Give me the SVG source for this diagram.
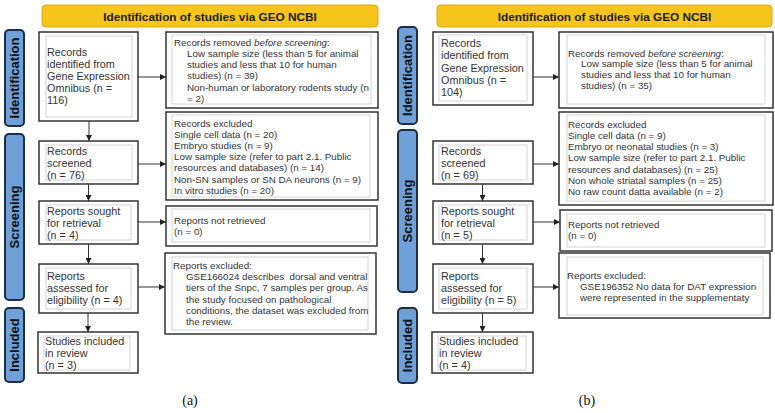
<svg xmlns="http://www.w3.org/2000/svg" width="775" height="413" viewBox="0 0 775 413">
<defs>
<marker id="ah" viewBox="0 0 6 6" refX="6" refY="3" markerWidth="6" markerHeight="6" markerUnits="userSpaceOnUse" orient="auto">
<path d="M0,0 L6,3 L0,6 z" fill="#222"/>
</marker>
<style>
.banner{fill:#F5C51E;stroke:#DDA90A;stroke-width:1}
.bt{font-family:"Liberation Sans",Arial,sans-serif;font-size:11.8px;font-weight:bold;fill:#1a1a1a;text-anchor:middle}
.side{fill:#70A0D8;stroke:#1E2D4A;stroke-width:2}
.st{font-family:"Liberation Sans",Arial,sans-serif;font-size:13px;font-weight:bold;fill:#111;text-anchor:middle}
.ob{fill:#fff;stroke:#333;stroke-width:1.5}
.ib{fill:none;stroke:#d4d4d4;stroke-width:1}
.lt{font-family:"Liberation Sans",Arial,sans-serif;font-size:10.8px;fill:#333}
.rt{font-family:"Liberation Sans",Arial,sans-serif;font-size:9.8px;fill:#333}
.cap{font-family:"Liberation Serif","Times New Roman",serif;font-size:14px;fill:#111;text-anchor:middle}
.cn{stroke:#333;stroke-width:1;fill:none;marker-end:url(#ah)}
</style>
</defs>
<rect width="775" height="413" fill="#fff"/>

<!-- Panel A -->
<g id="a-banner"><rect class="banner" x="42" y="5" width="336" height="22" rx="4"/><text class="bt" x="210" y="20.5">Identification of studies via GEO NCBI</text></g>
<g id="a-side-identification"><rect class="side" x="5" y="30" width="19" height="96" rx="4"/><text class="st" transform="translate(19,78) rotate(-90)">Identification</text></g>
<g id="a-side-screening"><rect class="side" x="5" y="134" width="19" height="166" rx="4"/><text class="st" transform="translate(19,217) rotate(-90)">Screening</text></g>
<g id="a-side-included"><rect class="side" x="5" y="308" width="19" height="74" rx="4"/><text class="st" transform="translate(19,345) rotate(-90)">Included</text></g>

<g id="a-identified"><rect class="ob" x="39" y="32" width="99" height="89"/><rect class="ib" x="46" y="36" width="86" height="81"/>
<text class="lt"><tspan x="47" y="56">Records</tspan><tspan x="47" y="68">identified from</tspan><tspan x="47" y="80">Gene Expression</tspan><tspan x="47" y="92">Omnibus (n =</tspan><tspan x="47" y="104">116)</tspan></text></g>
<g id="a-screened"><rect class="ob" x="39" y="141" width="99" height="43"/><rect class="ib" x="46" y="145" width="86" height="35"/>
<text class="lt"><tspan x="47" y="155">Records</tspan><tspan x="47" y="167">screened</tspan><tspan x="47" y="179">(n = 76)</tspan></text></g>
<g id="a-sought"><rect class="ob" x="39" y="201" width="99" height="43"/><rect class="ib" x="46" y="205" width="85" height="35"/>
<text class="lt"><tspan x="47" y="215">Reports sought</tspan><tspan x="47" y="227">for retrieval</tspan><tspan x="47" y="239">(n = 4)</tspan></text></g>
<g id="a-assessed"><rect class="ob" x="39" y="264" width="99" height="49"/><rect class="ib" x="46" y="268" width="85" height="41"/>
<text class="lt"><tspan x="47" y="280">Reports</tspan><tspan x="47" y="292">assessed for</tspan><tspan x="47" y="304">eligibility (n = 4)</tspan></text></g>
<g id="a-included"><rect class="ob" x="38" y="332" width="100" height="41"/><rect class="ib" x="44" y="336" width="86" height="34"/>
<text class="lt"><tspan x="45" y="345">Studies included</tspan><tspan x="45" y="357">in review</tspan><tspan x="45" y="369">(n = 3)</tspan></text></g>

<g id="a-removed"><rect class="ob" x="166" y="32" width="212" height="76"/><rect class="ib" x="172" y="35" width="199" height="69"/>
<text class="rt"><tspan x="174" y="45.5">Records removed <tspan font-style="italic">before screening</tspan>:</tspan><tspan x="187" y="56.8">Low sample size (less than 5 for animal</tspan><tspan x="187" y="68.1">studies and less that 10 for human</tspan><tspan x="187" y="79.4">studies) (n = 39)</tspan><tspan x="187" y="90.7">Non-human or laboratory rodents study (n</tspan><tspan x="187" y="102">= 2)</tspan></text></g>
<g id="a-excluded"><rect class="ob" x="166" y="112" width="212" height="88"/><rect class="ib" x="172" y="115" width="198" height="82"/>
<text class="rt"><tspan x="174" y="126.5">Records excluded</tspan><tspan x="174" y="137.7">Single cell data (n = 20)</tspan><tspan x="174" y="148.9">Embryo studies (n = 9)</tspan><tspan x="174" y="160.1">Low sample size (refer to part 2.1. Public</tspan><tspan x="174" y="171.3">resources and databases) (n = 14)</tspan><tspan x="174" y="182.5">Non-SN samples or SN DA neurons (n = 9)</tspan><tspan x="174" y="193.7">In vitro studies (n = 20)</tspan></text></g>
<g id="a-not-retrieved"><rect class="ob" x="166" y="206" width="211" height="40"/><rect class="ib" x="172" y="209" width="198" height="33"/>
<text class="rt"><tspan x="174" y="223.5">Reports not retrieved</tspan><tspan x="174" y="234.8">(n = 0)</tspan></text></g>
<g id="a-reports-excluded"><rect class="ob" x="165" y="253" width="211" height="81"/><rect class="ib" x="172" y="257" width="196" height="73"/>
<text class="rt" xml:space="preserve"><tspan x="173" y="268.5">Reports excluded:</tspan><tspan x="186" y="280">GSE166024 describes  dorsal and ventral</tspan><tspan x="186" y="291.3">tiers of the Snpc, 7 samples per group. As</tspan><tspan x="186" y="302.6">the study focused on pathological</tspan><tspan x="186" y="313.9">conditions, the dataset was excluded from</tspan><tspan x="186" y="325.2">the review.</tspan></text></g>
<text id="a-caption" class="cap" x="190" y="405">(a)</text>

<!-- Panel B -->
<g id="b-banner"><rect class="banner" x="437" y="5" width="335" height="22" rx="4"/><text class="bt" x="604.5" y="20.5">Identification of studies via GEO NCBI</text></g>
<g id="b-side-identification"><rect class="side" x="398" y="27" width="19" height="97" rx="4"/><text class="st" transform="translate(412,75.5) rotate(-90)">Identification</text></g>
<g id="b-side-screening"><rect class="side" x="398" y="130" width="19" height="162" rx="4"/><text class="st" transform="translate(412,211) rotate(-90)">Screening</text></g>
<g id="b-side-included"><rect class="side" x="398" y="308" width="19" height="75" rx="4"/><text class="st" transform="translate(412,345.5) rotate(-90)">Included</text></g>

<g id="b-identified"><rect class="ob" x="433" y="32" width="100" height="73"/><rect class="ib" x="439" y="35" width="88" height="66"/>
<text class="lt"><tspan x="441" y="47">Records</tspan><tspan x="441" y="59">identified from</tspan><tspan x="441" y="71.5">Gene Expression</tspan><tspan x="441" y="83.5">Omnibus (n =</tspan><tspan x="441" y="95.5">104)</tspan></text></g>
<g id="b-screened"><rect class="ob" x="433" y="141" width="100" height="43"/><rect class="ib" x="439" y="145" width="88" height="35"/>
<text class="lt"><tspan x="441" y="155">Records</tspan><tspan x="441" y="167">screened</tspan><tspan x="441" y="179">(n = 69)</tspan></text></g>
<g id="b-sought"><rect class="ob" x="433" y="201" width="100" height="43"/><rect class="ib" x="439" y="205" width="88" height="35"/>
<text class="lt"><tspan x="441" y="215">Reports sought</tspan><tspan x="441" y="227">for retrieval</tspan><tspan x="441" y="239">(n = 5)</tspan></text></g>
<g id="b-assessed"><rect class="ob" x="433" y="264" width="100" height="49"/><rect class="ib" x="439" y="268" width="88" height="41"/>
<text class="lt"><tspan x="441" y="280">Reports</tspan><tspan x="441" y="292">assessed for</tspan><tspan x="441" y="304">eligibility (n = 5)</tspan></text></g>
<g id="b-included"><rect class="ob" x="432" y="332" width="101" height="41"/><rect class="ib" x="438" y="336" width="88" height="34"/>
<text class="lt"><tspan x="439" y="345">Studies included</tspan><tspan x="439" y="357">in review</tspan><tspan x="439" y="369">(n = 4)</tspan></text></g>

<g id="b-removed"><rect class="ob" x="559" y="32" width="214" height="76"/><rect class="ib" x="567" y="35" width="198" height="69"/>
<text class="rt"><tspan x="568" y="56.5">Records removed <tspan font-style="italic">before screening</tspan>:</tspan><tspan x="581" y="66.8">Low sample size (less than 5 for animal</tspan><tspan x="581" y="78.1">studies and less that 10 for human</tspan><tspan x="581" y="89.4">studies) (n = 35)</tspan></text></g>
<g id="b-excluded"><rect class="ob" x="559" y="112" width="214" height="93"/><rect class="ib" x="567" y="115" width="198" height="86"/>
<text class="rt"><tspan x="568" y="127.5">Records excluded</tspan><tspan x="568" y="138.8">Single cell data (n = 9)</tspan><tspan x="568" y="150.1">Embryo or neonatal studies (n = 3)</tspan><tspan x="568" y="161.4">Low sample size (refer to part 2.1. Public</tspan><tspan x="568" y="172.7">resources and databases) (n = 25)</tspan><tspan x="568" y="184">Non whole striatal samples (n = 25)</tspan><tspan x="568" y="195.3">No raw count datta available (n = 2)</tspan></text></g>
<g id="b-not-retrieved"><rect class="ob" x="560" y="210" width="212" height="41"/><rect class="ib" x="567" y="214" width="198" height="33"/>
<text class="rt"><tspan x="568" y="227.5">Reports not retrieved</tspan><tspan x="568" y="238.8">(n = 0)</tspan></text></g>
<g id="b-reports-excluded"><rect class="ob" x="559" y="253" width="211" height="65"/><rect class="ib" x="567" y="257" width="196" height="58"/>
<text class="rt"><tspan x="567" y="278.5">Reports excluded:</tspan><tspan x="580" y="290">GSE196352 No data for DAT expression</tspan><tspan x="580" y="301.3">were represented in the supplementaty</tspan></text></g>
<text id="b-caption" class="cap" x="587" y="405">(b)</text>

<g id="connectors">
<line class="cn" x1="138" y1="77" x2="166" y2="77"/>
<line class="cn" x1="138" y1="164" x2="166" y2="164"/>
<line class="cn" x1="138" y1="222" x2="166" y2="222"/>
<line class="cn" x1="138" y1="287" x2="165" y2="287"/>
<line class="cn" x1="89" y1="121" x2="89" y2="141"/>
<line class="cn" x1="88.5" y1="184" x2="88.5" y2="201"/>
<line class="cn" x1="88.5" y1="244" x2="88.5" y2="264"/>
<line class="cn" x1="88" y1="313" x2="88" y2="332"/>
<line class="cn" x1="533" y1="77" x2="559" y2="77"/>
<line class="cn" x1="533" y1="164" x2="559" y2="164"/>
<line class="cn" x1="533" y1="222" x2="560" y2="222"/>
<line class="cn" x1="533" y1="287" x2="559" y2="287"/>
<line class="cn" x1="482.5" y1="184" x2="482.5" y2="201"/>
<line class="cn" x1="482.5" y1="244" x2="482.5" y2="264"/>
<line class="cn" x1="482.5" y1="313" x2="482.5" y2="332"/>
</g>
</svg>
